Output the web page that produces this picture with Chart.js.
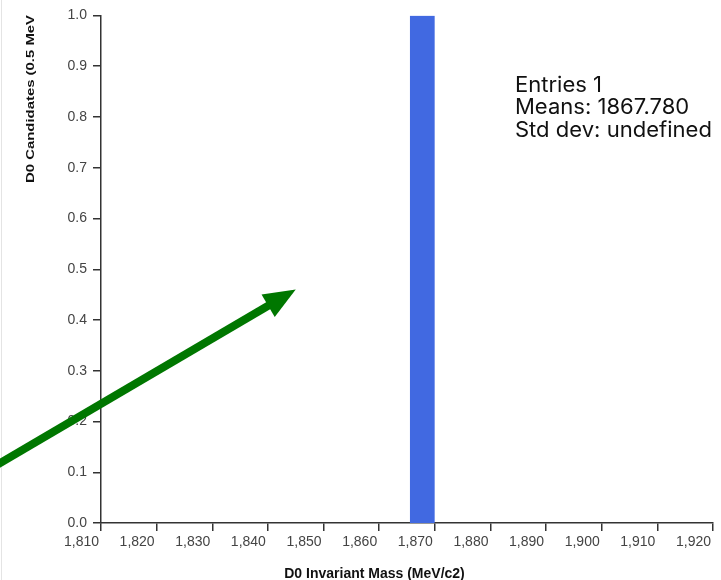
<!DOCTYPE html>
<html>
<head>
<meta charset="utf-8">
<script src="https://cdn.jsdelivr.net/npm/chart.js@4"></script>
<style>
body { margin: 0; background: #fff; }
#wrap { width: 721px; height: 580px; position: relative; }
</style>
</head>
<body>
<div id="wrap"><canvas id="histcanvas"></canvas></div>
<script>
// histogram data
var binEdges = [1865.5, 1870];
var binCounts = [1];
var xMin = 1810, xMax = 1920, xStep = 10;
var yMin = 0, yMax = 1, yStep = 0.1;
var statLines = ["Entries 1", "Means: 1867.780", "Std dev: undefined"];
var xTitle = "D0 Invariant Mass (MeV/c2)";
var yTitle = "D0 Candidates (0.5 MeV";

// arrow annotation, in data units
var arrowFrom = [1790, 0.106];
var arrowTo = [1845, 0.46];

// step outline for each bin
var histPoints = [];
for (var i = 0; i < binCounts.length; i++) {
	histPoints.push({x: binEdges[i], y: 0});
	histPoints.push({x: binEdges[i], y: binCounts[i]});
	histPoints.push({x: binEdges[i + 1], y: binCounts[i]});
	histPoints.push({x: binEdges[i + 1], y: 0});
}

var overlay = {
	id: 'overlay',
	afterDraw: function(chart) {
		var ctx = chart.ctx;
		var xs = chart.scales.x, ys = chart.scales.y;

		ctx.save();
		// faint frame edge
		ctx.strokeStyle = '#e4e4e4';
		ctx.lineWidth = 1;
		ctx.beginPath();
		ctx.moveTo(1.5, 0);
		ctx.lineTo(1.5, chart.height);
		ctx.stroke();

		// arrow
		var x0 = xs.getPixelForValue(arrowFrom[0]), y0 = ys.getPixelForValue(arrowFrom[1]);
		var x1 = xs.getPixelForValue(arrowTo[0]), y1 = ys.getPixelForValue(arrowTo[1]);
		var ang = Math.atan2(y1 - y0, x1 - x0);
		var headLen = 32, headHalf = 13;
		var bx = x1 - headLen * Math.cos(ang), by = y1 - headLen * Math.sin(ang);
		ctx.strokeStyle = '#007700';
		ctx.fillStyle = '#007700';
		ctx.lineWidth = 8;
		ctx.beginPath();
		ctx.moveTo(x0, y0);
		ctx.lineTo(bx + 2 * Math.cos(ang), by + 2 * Math.sin(ang));
		ctx.stroke();
		ctx.beginPath();
		ctx.moveTo(x1, y1);
		ctx.lineTo(bx + headHalf * Math.sin(ang), by - headHalf * Math.cos(ang));
		ctx.lineTo(bx - headHalf * Math.sin(ang), by + headHalf * Math.cos(ang));
		ctx.closePath();
		ctx.fill();

		// stats box
		ctx.fillStyle = '#111';
		ctx.font = '21px Inter';
		ctx.textAlign = 'left';
		ctx.textBaseline = 'alphabetic';
		var sx = xs.getPixelForValue(1884.4), sy = ys.getPixelForValue(0.85);
		var widest = Math.max.apply(null, statLines.map(function(t) { return ctx.measureText(t).width; }));
		ctx.save();
		ctx.translate(sx, sy);
		ctx.scale(197 / widest, 1);
		statLines.forEach(function(t, k) {
			ctx.fillText(t, 0, k * 22.5);
		});
		ctx.restore();

		// axis titles
		ctx.fillStyle = '#111';
		ctx.font = 'bold 14px "Liberation Sans"';
		ctx.textAlign = 'center';
		ctx.fillText(xTitle, chart.width / 2 + 14, 578);

		ctx.translate(34, 183);
		ctx.rotate(-Math.PI / 2);
		ctx.font = 'bold 11px "Liberation Sans"';
		ctx.textAlign = 'left';
		var w = ctx.measureText(yTitle).width;
		ctx.scale(168 / w, 1);
		ctx.fillText(yTitle, 0, 0);
		ctx.restore();
	}
};

window.onload = function() {
	var ctx = document.getElementById("histcanvas").getContext("2d");
	window.myHist = new Chart(ctx, {
		type: 'line',
		data: {
			datasets: [{
				label: 'D0',
				data: histPoints,
				fill: 'origin',
				backgroundColor: '#4169e1',
				borderColor: 'rgba(0,0,0,0)',
				borderWidth: 0,
				pointRadius: 0,
				tension: 0
			}]
		},
		options: {
			responsive: true,
			maintainAspectRatio: false,
			animation: false,
			layout: { padding: { top: 15.5, right: 8, left: 0, bottom: 0 } },
			plugins: {
				legend: { display: false },
				title: { display: false },
				tooltip: { enabled: false }
			},
			scales: {
				x: {
					type: 'linear',
					min: xMin,
					max: xMax,
					afterFit: function(s) { s.height = 57; },
					ticks: {
						stepSize: xStep,
						align: 'end',
						labelOffset: -2,
						padding: 3,
						color: '#444',
						font: { family: 'Liberation Sans', size: 14 }
					},
					grid: { drawOnChartArea: false, tickLength: 8, color: '#333', lineWidth: 1.5 },
					border: { color: '#333', width: 1.5 }
				},
				y: {
					min: yMin,
					max: yMax,
					afterFit: function(s) { s.width = 101; },
					ticks: {
						stepSize: yStep,
						padding: 6,
						color: '#444',
						font: { family: 'Liberation Sans', size: 14 },
						callback: function(v) { return v.toFixed(1); }
					},
					grid: { drawOnChartArea: false, tickLength: 8, color: '#333', lineWidth: 1.5 },
					border: { color: '#333', width: 1.5 }
				}
			}
		},
		plugins: [overlay]
	});
};
</script>
</body>
</html>
